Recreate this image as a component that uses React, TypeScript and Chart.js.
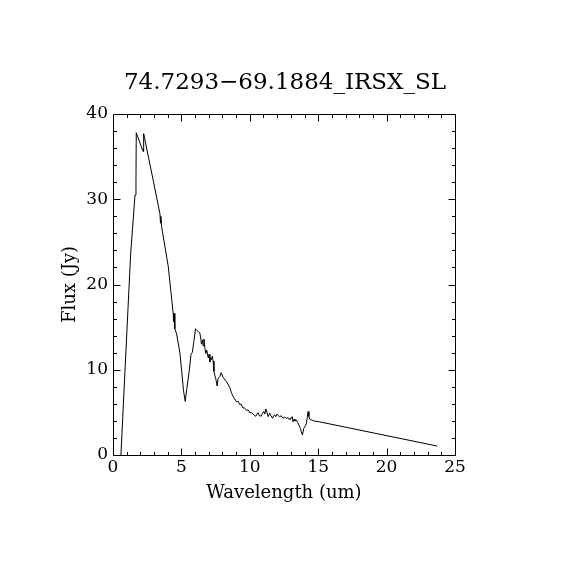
import React, { useEffect, useRef } from "react";
import { Chart, registerables } from "chart.js";

Chart.register(...registerables);

const TITLE = "74.7293\u221269.1884_IRSX_SL";
const X_LABEL = "Wavelength (um)";
const Y_LABEL = "Flux (Jy)";

const X_MIN = 0;
const X_MAX = 25;
const Y_MIN = 0;
const Y_MAX = 40;
const X_MAJOR = 5;
const X_MINOR = 1;
const Y_MAJOR = 10;
const Y_MINOR = 2;

const wavelength = [
  0.58, 1.29, 1.61, 1.68, 1.7, 2.2, 2.24, 2.94, 3.43, 3.47, 3.5, 3.55, 4.04, 4.4,
  4.43, 4.46, 4.52, 4.65, 4.89, 5.01, 5.15, 5.28, 5.4, 5.57, 5.7, 5.79, 5.91, 6.03,
  6.1, 6.23, 6.35, 6.42, 6.47, 6.55, 6.59, 6.65, 6.72, 6.79, 6.85, 6.96, 7.02, 7.08,
  7.14, 7.2, 7.26, 7.32, 7.38, 7.45, 7.52, 7.61, 7.69, 7.81, 7.91, 8.05, 8.3, 8.54,
  8.66, 8.78, 9.03, 9.15, 9.27, 9.35, 9.51, 9.6, 9.76, 9.88, 10.0, 10.12, 10.24,
  10.36, 10.44, 10.52, 10.61, 10.7, 10.85, 10.93, 11.02, 11.1, 11.17, 11.26, 11.34,
  11.46, 11.55, 11.66, 11.74, 11.82, 11.9, 11.99, 12.09, 12.19, 12.3, 12.43, 12.55,
  12.68, 12.8, 12.92, 12.98, 13.04, 13.1, 13.16, 13.24, 13.3, 13.41, 13.5, 13.6,
  13.7, 13.77, 13.85, 13.94, 14.02, 14.09, 14.15, 14.21, 14.26, 14.32, 14.38, 14.67,
  15.07, 23.7,
];

const flux = [
  0, 23.6, 30.5, 32.2, 37.8, 35.6, 37.7, 32.2, 28.3, 27.2, 28.0, 26.8, 22.1, 16.6,
  15.6, 16.6, 14.8, 14.2, 12.0, 10.0, 7.6, 6.3, 7.8, 9.8, 11.8, 12.0, 13.3, 14.8,
  14.7, 14.5, 14.3, 13.6, 13.0, 13.5, 12.8, 13.6, 12.5, 11.9, 12.3, 11.4, 11.8, 10.9,
  11.4, 11.2, 11.6, 11.0, 9.8, 9.3, 8.9, 8.1, 9.0, 9.2, 9.65, 9.1, 8.6, 7.9,
  7.3, 6.85, 6.25, 6.3, 5.9, 6.0, 5.5, 5.55, 5.2, 5.3, 4.95, 5.0, 4.8,
  4.6, 4.55, 4.8, 4.96, 4.6, 4.57, 4.9, 5.1, 4.8, 5.4, 5.0, 4.5,
  4.9, 4.6, 4.3, 4.6, 4.7, 4.5, 4.8, 4.6, 4.5, 4.6, 4.3, 4.45,
  4.3, 4.4, 4.1, 4.35, 4.3, 4.5, 3.9, 4.2, 4.0, 4.1, 3.8, 3.5,
  3.1, 2.7, 2.35, 3.1, 3.3, 3.5, 3.8, 4.5, 5.1, 4.5, 4.2, 4.0,
  3.9, 1.05,
];

const FONT = "'DejaVu Serif', serif";

const frameTicks = {
  id: "frameTicks",
  afterDraw(chart: any) {
    const { ctx, chartArea, scales } = chart;
    const { left, right, top, bottom } = chartArea;
    const x = scales.x;
    const y = scales.y;
    const L = Math.round(left) + 0.5;
    const R = Math.round(right) + 0.5;
    const T = Math.round(top) + 0.5;
    const B = Math.round(bottom) + 0.5;
    ctx.save();
    ctx.strokeStyle = "#000";
    ctx.lineWidth = 1;
    ctx.beginPath();
    ctx.rect(L, T, R - L, B - T);
    const major = 7;
    const minor = 3.5;
    for (let v = X_MIN; v <= X_MAX + 1e-9; v += X_MINOR) {
      const px = Math.round(x.getPixelForValue(v)) + 0.5;
      const len = Math.abs(v / X_MAJOR - Math.round(v / X_MAJOR)) < 1e-6 ? major : minor;
      ctx.moveTo(px, B);
      ctx.lineTo(px, B - len);
      ctx.moveTo(px, T);
      ctx.lineTo(px, T + len);
    }
    for (let v = Y_MIN; v <= Y_MAX + 1e-9; v += Y_MINOR) {
      const py = Math.round(y.getPixelForValue(v)) + 0.5;
      const len = Math.abs(v / Y_MAJOR - Math.round(v / Y_MAJOR)) < 1e-6 ? major : minor;
      ctx.moveTo(L, py);
      ctx.lineTo(L + len, py);
      ctx.moveTo(R, py);
      ctx.lineTo(R - len, py);
    }
    ctx.stroke();
    ctx.restore();
  },
};

export default function App() {
  const ref = useRef<HTMLCanvasElement | null>(null);

  useEffect(() => {
    if (!ref.current) return;
    const points = wavelength.map((w, i) => ({ x: w, y: flux[i] }));
    const chart = new Chart(ref.current, {
      type: "line",
      data: {
        datasets: [
          {
            data: points,
            borderColor: "#000",
            borderWidth: 1,
            pointRadius: 0,
            tension: 0,
            fill: false,
          },
        ],
      },
      options: {
        animation: false,
        responsive: false,
        devicePixelRatio: 1,
        layout: { padding: 0 },
        plugins: {
          legend: { display: false },
          tooltip: { enabled: false },
          title: {
            display: true,
            text: TITLE,
            color: "#000",
            font: { family: FONT, size: 23, weight: "normal" },
            padding: { top: 69, bottom: 17.4 },
          },
        },
        scales: {
          x: {
            type: "linear",
            position: "bottom",
            min: X_MIN,
            max: X_MAX,
            grid: { display: false, drawTicks: false },
            border: { display: false },
            ticks: {
              stepSize: X_MAJOR,
              color: "#000",
              padding: 2,
              maxRotation: 0,
              font: { family: FONT, size: 17 },
            },
            title: {
              display: true,
              text: X_LABEL,
              color: "#000",
              font: { family: FONT, size: 18 },
              padding: { top: 0, bottom: 66 },
            },
            afterFit: (s: any) => {
              s.height = 115;
            },
          },
          y: {
            type: "linear",
            position: "left",
            min: Y_MIN,
            max: Y_MAX,
            grid: { display: false, drawTicks: false },
            border: { display: false },
            ticks: {
              stepSize: Y_MAJOR,
              color: "#000",
              padding: 5,
              font: { family: FONT, size: 17 },
            },
            title: {
              display: true,
              text: Y_LABEL,
              color: "#000",
              font: { family: FONT, size: 18 },
              padding: { top: 60, bottom: 0 },
            },
            afterFit: (s: any) => {
              s.width = 113;
            },
          },
          yr: {
            type: "linear",
            position: "right",
            min: Y_MIN,
            max: Y_MAX,
            grid: { display: false, drawTicks: false },
            border: { display: false },
            ticks: { display: false },
            afterFit: (s: any) => {
              s.width = 115;
            },
          },
        },
      },
      plugins: [frameTicks],
    });
    return () => chart.destroy();
  }, []);

  return (
    <div style={{ position: "absolute", left: 0, top: 0, width: 570, height: 570, background: "#fff" }}>
      <canvas ref={ref} width={570} height={570} />
    </div>
  );
}
